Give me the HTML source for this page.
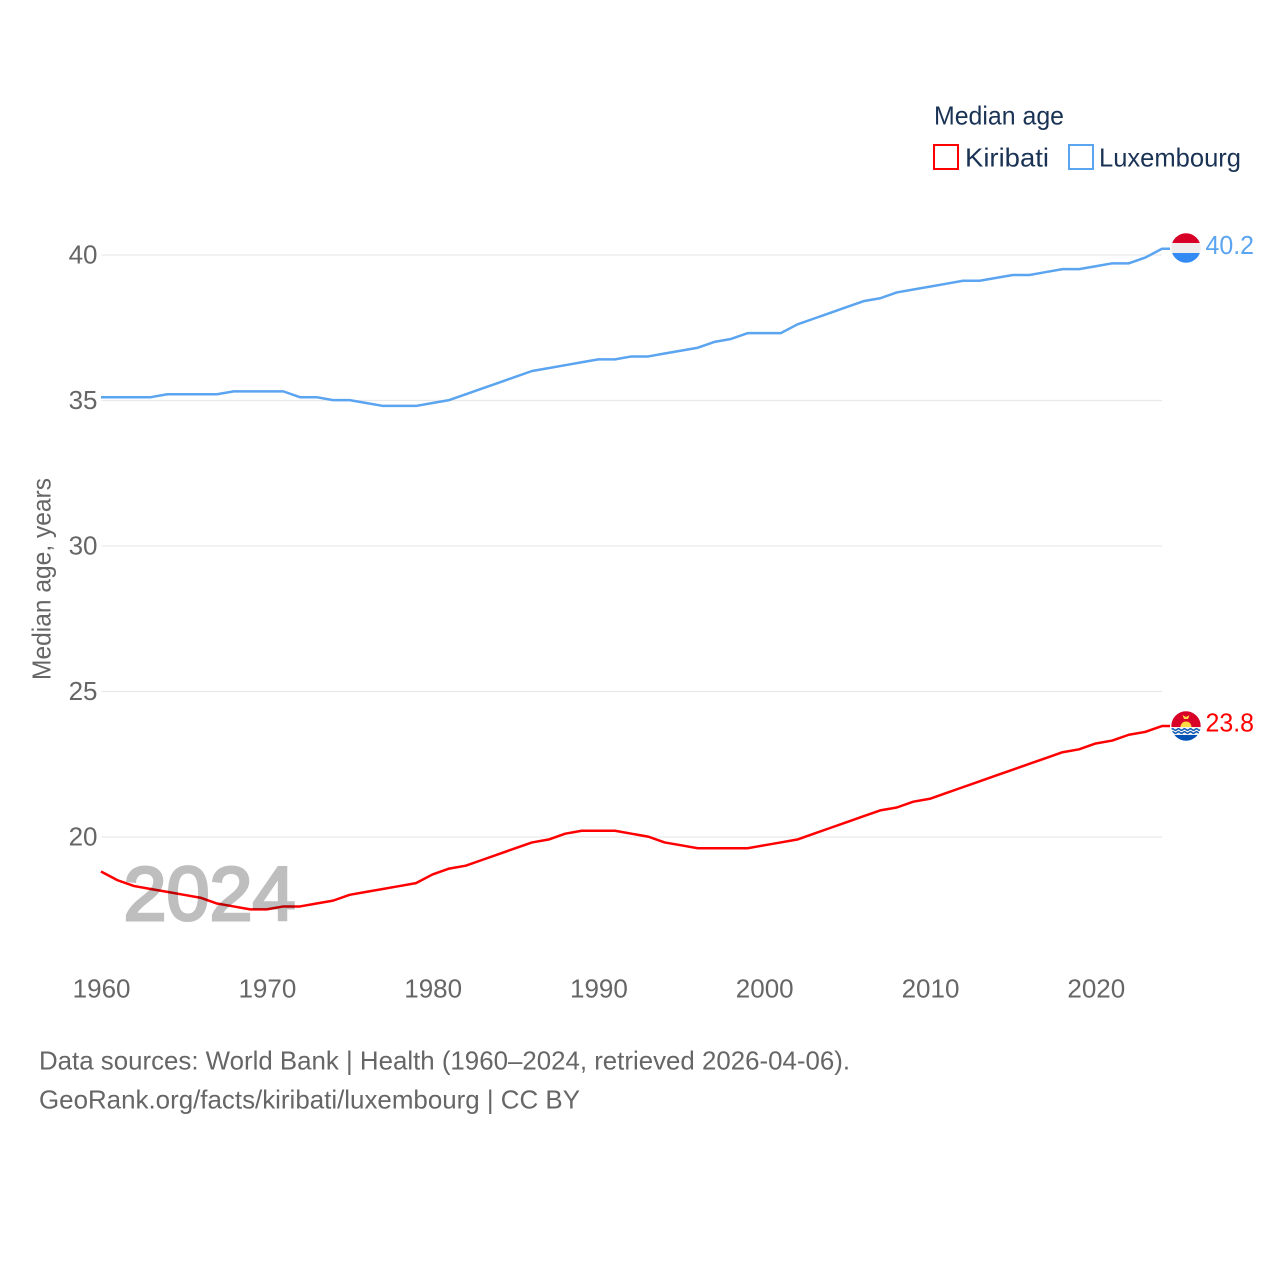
<!DOCTYPE html>
<html lang="en">
<head>
<meta charset="utf-8">
<title>Median age: Kiribati and Luxembourg</title>
<style>
html,body{margin:0;padding:0;background:#fff;width:1280px;height:1280px;overflow:hidden}
svg{display:block;font-family:"Liberation Sans",sans-serif}
</style>
</head>
<body>
<svg id="chart" xmlns="http://www.w3.org/2000/svg" width="1280" height="1280" viewBox="0 0 1280 1280">
  <defs>
    <clipPath id="flag-clip-lu"><circle cx="1186" cy="248" r="14.7"/></clipPath>
    <clipPath id="flag-clip-ki"><circle cx="1186" cy="726" r="14.7"/></clipPath>
  </defs>
  <g id="grid"></g>
  <g id="yticks"></g>
  <g id="xticks"></g>
  <text transform="translate(50.500 680) rotate(-90)" font-size="26" fill="#666" textLength="202" lengthAdjust="spacingAndGlyphs">Median age, years</text>
  <g id="series" transform="translate(0 -0.4)"></g>
  <text x="123.500" y="920" font-size="76" fill="#000" stroke="#000" stroke-width="3" opacity="0.25" textLength="172" lengthAdjust="spacingAndGlyphs">2024</text>

  <g clip-path="url(#flag-clip-lu)">
    <rect x="1171" y="233" width="30" height="10" fill="#d80027"/>
    <rect x="1171" y="243" width="30" height="10" fill="#eeeeee"/>
    <rect x="1171" y="253" width="30" height="10" fill="#338af3"/>
  </g>
  <g clip-path="url(#flag-clip-ki)">
    <rect x="1171" y="711" width="30" height="16" fill="#d80027"/>
    <path d="M1180.500 727a5.500 5.500 0 0 1 11 0z" fill="#ffda44"/>
    <path d="M1182.500 715l3.500 2 3.500-2-1.500 4h-4z" fill="#ffda44"/>
    <rect x="1171" y="727" width="30" height="9" fill="#f0f0f0"/>
    <g fill="none" stroke="#0052b4" stroke-width="1.3">
      <path d="M1171 729.500q1.500-1.500 3 0t3 0 3 0 3 0 3 0 3 0 3 0 3 0 3 0 3 0"/>
      <path d="M1171 732.500q1.500-1.500 3 0t3 0 3 0 3 0 3 0 3 0 3 0 3 0 3 0 3 0"/>
    </g>
    <rect x="1171" y="735" width="30" height="6" fill="#0052b4"/>
  </g>

  <g>
    <text x="934" y="124.500" font-size="26" fill="#1a3355" textLength="130" lengthAdjust="spacingAndGlyphs">Median age</text>
    <g>
      <rect x="934" y="145" width="24" height="24" fill="#fff" stroke="#ff0000" stroke-width="2"/>
      <text x="965" y="166.500" font-size="26" fill="#1a3355" textLength="84" lengthAdjust="spacingAndGlyphs">Kiribati</text>
    </g>
    <g>
      <rect x="1069" y="145" width="24" height="24" fill="#fff" stroke="#5ba4f0" stroke-width="2"/>
      <text x="1099" y="166.500" font-size="26" fill="#1a3355" textLength="142" lengthAdjust="spacingAndGlyphs">Luxembourg</text>
    </g>
  </g>

  <text x="39" y="1069.500" font-size="26" fill="#666" textLength="811" lengthAdjust="spacingAndGlyphs">Data sources: World Bank | Health (1960–2024, retrieved 2026-04-06).</text>
  <text x="39" y="1108.500" font-size="26" fill="#666" textLength="541" lengthAdjust="spacingAndGlyphs">GeoRank.org/facts/kiribati/luxembourg | CC BY</text>
</svg>
<script>
const years = [1960,1961,1962,1963,1964,1965,1966,1967,1968,1969,1970,1971,1972,1973,1974,1975,1976,1977,1978,1979,1980,1981,1982,1983,1984,1985,1986,1987,1988,1989,1990,1991,1992,1993,1994,1995,1996,1997,1998,1999,2000,2001,2002,2003,2004,2005,2006,2007,2008,2009,2010,2011,2012,2013,2014,2015,2016,2017,2018,2019,2020,2021,2022,2023,2024];
const kiribati = [18.8,18.5,18.3,18.2,18.1,18.0,17.9,17.7,17.6,17.5,17.5,17.6,17.6,17.7,17.8,18.0,18.1,18.2,18.3,18.4,18.7,18.9,19.0,19.2,19.4,19.6,19.8,19.9,20.1,20.2,20.2,20.2,20.1,20.0,19.8,19.7,19.6,19.6,19.6,19.6,19.7,19.8,19.9,20.1,20.3,20.5,20.7,20.9,21.0,21.2,21.3,21.5,21.7,21.9,22.1,22.3,22.5,22.7,22.9,23.0,23.2,23.3,23.5,23.6,23.8];
const luxembourg = [35.1,35.1,35.1,35.1,35.2,35.2,35.2,35.2,35.3,35.3,35.3,35.3,35.1,35.1,35.0,35.0,34.9,34.8,34.8,34.8,34.9,35.0,35.2,35.4,35.6,35.8,36.0,36.1,36.2,36.3,36.4,36.4,36.5,36.5,36.6,36.7,36.8,37.0,37.1,37.3,37.3,37.3,37.6,37.8,38.0,38.2,38.4,38.5,38.7,38.8,38.9,39.0,39.1,39.1,39.2,39.3,39.3,39.4,39.5,39.5,39.6,39.7,39.7,39.9,40.2];
const yTickValues = [20,25,30,35,40];
const xTickValues = [1960,1970,1980,1990,2000,2010,2020];

const NS = 'http://www.w3.org/2000/svg';
const xAxis = function (year) { return 101 + (year - 1960) * (1162 - 101) / 64; };
const yAxis = function (value) { return 837 - (value - 20) * 29.1; };

function make(tag, parent, props) {
  const el = document.createElementNS(NS, tag);
  Object.keys(props).forEach(function (k) { el.setAttribute(k, props[k]); });
  parent.appendChild(el);
  return el;
}

const gridGroup = document.getElementById('grid');
const yGroup = document.getElementById('yticks');
const xGroup = document.getElementById('xticks');
const seriesGroup = document.getElementById('series');
const svgRoot = document.getElementById('chart');

yTickValues.forEach(function (v) {
  const line = make('line', gridGroup, {x1: 101.5, x2: 1162, y1: yAxis(v), y2: yAxis(v), stroke: '#e9e9e9', 'stroke-width': 1.3});
  
  
  const label = make('text', yGroup, {x: 97.5, y: yAxis(v) + 8.5, 'text-anchor': 'end', 'font-size': 26, fill: '#666'});
  
  
  label.textContent = v;
});

xTickValues.forEach(function (yr) {
  const label = make('text', xGroup, {x: xAxis(yr) + 0.6, y: 997.5, 'text-anchor': 'middle', 'font-size': 26, fill: '#666'});
  
  
  label.textContent = yr;
});

function drawSeries(values, color, name) {
  const pts = values.map(function (v, i) { return xAxis(years[i]).toFixed(2) + ',' + yAxis(v).toFixed(2); });
  const lastValue = values[values.length - 1];
  const lastY = yAxis(lastValue);
  pts.push('1170,' + lastY.toFixed(2));
  const line = make('polyline', seriesGroup, {points: pts.join(' '), fill: 'none', stroke: color, 'stroke-width': 2.5, 'stroke-linejoin': 'round'});
  
  
  const label = make('text', svgRoot, {x: 1205.5, y: lastY + 5, 'font-size': 26, fill: color, textLength: 48.5, lengthAdjust: 'spacingAndGlyphs'});
  
  
  label.textContent = lastValue.toFixed(1);
}

drawSeries(kiribati, '#ff0000', 'kiribati');
drawSeries(luxembourg, '#5ba4f0', 'luxembourg');
</script>
</body>
</html>
